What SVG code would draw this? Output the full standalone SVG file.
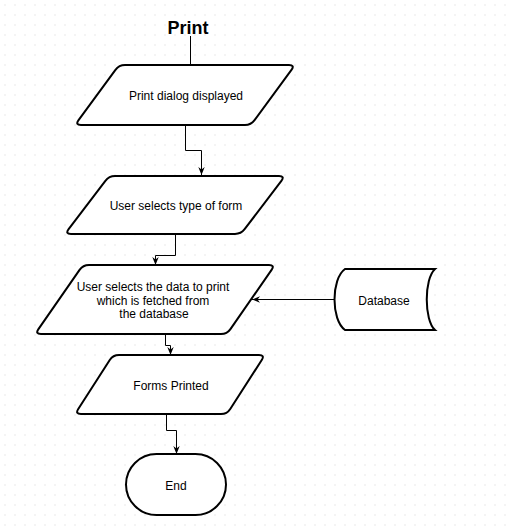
<svg xmlns="http://www.w3.org/2000/svg" width="507" height="531" viewBox="0 0 507 531">
<defs>
<pattern id="grid" x="0" y="0" width="10" height="10" patternUnits="userSpaceOnUse">
<rect x="4.5" y="4.5" width="1" height="1" fill="#d4d4d4"/>
</pattern>
<marker id="arr" viewBox="0 0 10 10" refX="10" refY="5" markerWidth="8" markerHeight="8" markerUnits="userSpaceOnUse" orient="auto">
<path d="M0,1 L10,5 L0,9 L3,5 Z" fill="#000"/>
</marker>
<style>
.shape{fill:#fff;stroke:#000;stroke-width:2}
.lbl{font-family:"Liberation Sans",Arial,sans-serif;font-size:12px;fill:#000;text-anchor:middle}
.edge{fill:none;stroke:#000;stroke-width:1}
</style>
</defs>
<rect width="507" height="531" fill="#fff"/>
<rect width="507" height="531" fill="url(#grid)"/>
<text x="188" y="34" font-family="'Liberation Sans',Arial,sans-serif" font-size="18" font-weight="bold" text-anchor="middle" fill="#000">Print</text>
<g id="connectors">
<path class="edge" d="M190.5,36 V65"/>
<path class="edge" d="M185.5,125 V150.5 H201.5 V175" marker-end="url(#arr)"/>
<path class="edge" d="M175.5,234 V255.5 H155.5 V265" marker-end="url(#arr)"/>
<path class="edge" d="M335,299.5 H252" marker-end="url(#arr)"/>
<path class="edge" d="M165.5,334 V345.5 H170.5 V355" marker-end="url(#arr)"/>
<path class="edge" d="M166.5,414 V430.5 H176.5 V454" marker-end="url(#arr)"/>
</g>
<g id="print-dialog">
<path class="shape" d="M125,65 H289 Q295,65 291.45,69.84 L254.55,120.16 Q251,125 245,125 H81 Q75,125 78.55,120.16 L115.45,69.84 Q119,65 125,65 Z"/>
<text class="lbl" x="186" y="100">Print dialog displayed</text>
</g>
<g id="select-form">
<path class="shape" d="M115,176 H279 Q285,176 281.37,180.78 L244.63,229.22 Q241,234 235,234 H71 Q65,234 68.63,229.22 L105.37,180.78 Q109,176 115,176 Z"/>
<text class="lbl" x="176" y="210">User selects type of form</text>
</g>
<g id="select-data">
<path class="shape" d="M89,265 H269 Q275,265 271.57,269.93 L230.43,329.07 Q227,334 221,334 H41 Q35,334 38.43,329.07 L79.57,269.93 Q83,265 89,265 Z"/>
<text class="lbl" x="153" y="291">User selects the data to print</text>
<text class="lbl" x="153" y="305">which is fetched from</text>
<text class="lbl" x="154" y="318">the database</text>
</g>
<g id="database">
<path class="shape" d="M345,269 H435 C424,279 424,320 435,330 H345 C331,320 331,279 345,269 Z"/>
<text class="lbl" x="384" y="305">Database</text>
</g>
<g id="forms-printed">
<path class="shape" d="M119,355 H259 Q265,355 261.75,360.04 L230.25,408.96 Q227,414 221,414 H81 Q75,414 78.25,408.96 L109.75,360.04 Q113,355 119,355 Z"/>
<text class="lbl" x="171" y="390">Forms Printed</text>
</g>
<g id="end">
<rect class="shape" x="126" y="454" width="100" height="61" rx="30.5" ry="30.5"/>
<text class="lbl" x="176" y="490">End</text>
</g>
</svg>
